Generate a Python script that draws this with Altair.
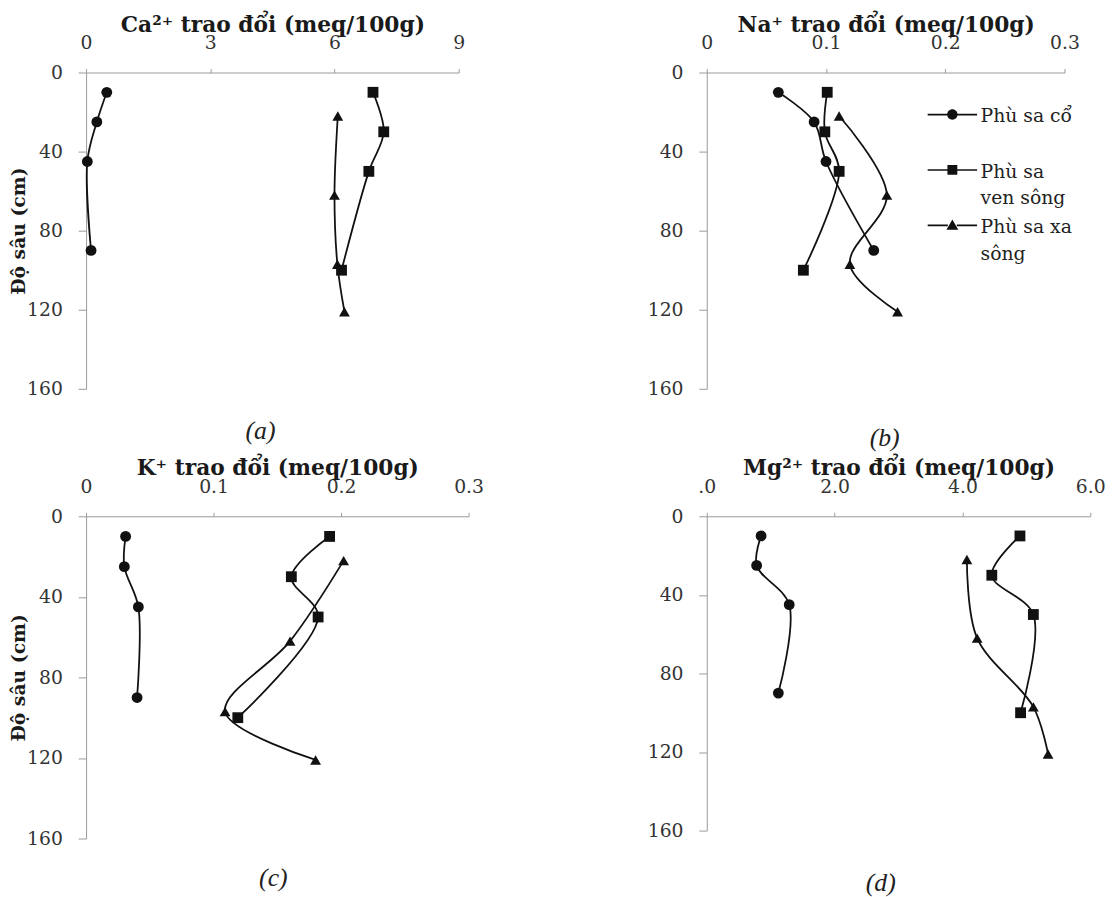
import altair as alt
import pandas as pd

# ---------------- data ----------------
series = ["Phù sa cổ", "Phù sa ven sông", "Phù sa xa sông"]
depth_co = [10, 25, 45, 90]
depth_ven = [10, 30, 50, 100]
depth_xa = [22, 62, 97, 121]

ca_co = [0.50, 0.26, 0.03, 0.12]
ca_ven = [6.93, 7.19, 6.83, 6.17]
ca_xa = [6.08, 6.00, 6.07, 6.24]

na_co = [0.060, 0.090, 0.100, 0.140]
na_ven = [0.101, 0.099, 0.111, 0.081]
na_xa = [0.111, 0.151, 0.120, 0.160]

k_co = [0.031, 0.030, 0.041, 0.040]
k_ven = [0.191, 0.161, 0.182, 0.119]
k_xa = [0.202, 0.160, 0.109, 0.180]

mg_co = [0.85, 0.78, 1.29, 1.12]
mg_ven = [4.90, 4.46, 5.11, 4.91]
mg_xa = [4.07, 4.23, 5.11, 5.34]

depth_ticks = [0, 40, 80, 120, 160]
ca_ticks = [0, 3, 6, 9]
na_ticks = [0, 0.1, 0.2, 0.3]
k_ticks = [0, 0.1, 0.2, 0.3]
mg_ticks = [0, 2, 4, 6]

FONT = "DejaVu Serif"
CAP_FONT = "Liberation Serif"

shape_range = ["circle", "square", "triangle-up"]
# legend symbols: a short line with the marker in the middle (fill-only paths)
_bar = "M-5,1.25H-0.9V1.6H-5ZM0.9,1.25H5V1.6H0.9Z"
legend_paths = [
    _bar + "M-1.05,1.4A1.05,1.05,0,1,1,1.05,1.4A1.05,1.05,0,1,1,-1.05,1.4Z",
    _bar + "M-1,0.4H1V2.4H-1Z",
    _bar + "M0,0.25L1.2,2.3H-1.2Z",
]


def frame(v_co, v_ven, v_xa):
    rows = []
    for s, dep, vals in zip(series, [depth_co, depth_ven, depth_xa], [v_co, v_ven, v_xa]):
        for d, v in zip(dep, vals):
            rows.append({"series": s, "depth": d, "value": v})
    return pd.DataFrame(rows)


def panel(df, xmax, xticks, xtitle, label_expr, ytitle, caption, cap_dx, cap_off, w, h, legend=False):
    xaxis = dict(orient="top", values=xticks, title=xtitle, tickSize=4, titleFontSize=22,
                 labelPadding=16, titlePadding=-2, labelFlush=False)
    if label_expr:
        xaxis["labelExpr"] = label_expr
    yaxis = dict(values=depth_ticks, tickSize=8, labelPadding=16, titlePadding=-2, titleFontSize=19)
    yaxis["title"] = ytitle if ytitle else ""
    x = alt.X("value:Q", scale=alt.Scale(domain=[0, xmax], nice=False, zero=True),
              axis=alt.Axis(**xaxis))
    y = alt.Y("depth:Q", scale=alt.Scale(domain=[0, 160], reverse=True, nice=False),
              axis=alt.Axis(**yaxis))
    base = alt.Chart(df)
    lines = base.mark_line(interpolate="catmull-rom", color="#111", strokeWidth=1.8).encode(
        x=x, y=y, detail="series:N", order="depth:Q")
    pts = base.mark_point(filled=True, size=120, color="#111", opacity=1).encode(
        x=x, y=y,
        shape=alt.Shape("series:N", scale=alt.Scale(domain=series, range=shape_range), legend=None))
    layers = [lines, pts]
    if legend:
        leg = base.mark_point(filled=True, size=100, color="#111", opacity=1).encode(
            x=x, y=y,
            shape=alt.Shape("series:N",
                            scale=alt.Scale(domain=series, range=legend_paths),
                            legend=alt.Legend(
                                orient="none", legendX=239, legendY=26, title=None,
                                labelFont=FONT, labelFontSize=19, labelColor="#222",
                                labelBaseline="top", labelOffset=19, rowPadding=-8,
                                symbolSize=100, symbolOpacity=1, labelLimit=300,
                                labelExpr="datum.label == 'Phù sa ven sông' ? ['Phù sa', 'ven sông'] : datum.label == 'Phù sa xa sông' ? ['Phù sa xa', 'sông'] : [datum.label, '']",
                            ))).transform_filter("false")
        layers.append(leg)
    ch = alt.layer(*layers).properties(
        width=w, height=h,
        title=alt.TitleParams(text=caption, orient="bottom", font=CAP_FONT, fontStyle="italic",
                              fontWeight="normal", fontSize=26, color="#222", offset=cap_off, dx=cap_dx),
    )
    if legend:
        ch = ch.resolve_scale(shape="independent")
    return ch


num1 = "datum.value == 0 ? '0' : format(datum.value, '.1f')"
mgfmt = "datum.value == 0 ? '.0' : format(datum.value, '.1f')"

pa = panel(frame(ca_co, ca_ven, ca_xa), 9, ca_ticks, "Ca²⁺ trao đổi (meq/100g)", None,
           "Độ sâu (cm)", "(a)", -12, 20, 377, 320)
pb = panel(frame(na_co, na_ven, na_xa), 0.3, na_ticks, "Na⁺ trao đổi (meq/100g)", num1,
           None, "(b)", -1, 27, 362, 320, legend=True)
pc = panel(frame(k_co, k_ven, k_xa), 0.3, k_ticks, "K⁺ trao đổi (meq/100g)", num1,
           "Độ sâu (cm)", "(c)", -4, 17, 387, 326)
pd_ = panel(frame(mg_co, mg_ven, mg_xa), 6, mg_ticks, "Mg²⁺ trao đổi (meq/100g)", mgfmt,
            None, "(d)", -18, 30, 388, 318)

chart = alt.concat(pa, pb, pc, pd_, columns=2, spacing={"row": 129, "column": 241},
                   bounds="flush", align="each").properties(
    padding={"left": 1, "top": 0, "right": 5, "bottom": 5}
).configure(
    background="white", style={"guide-label": {"lineHeight": 27}}
).configure_view(strokeOpacity=0).configure_axis(
    grid=False, domainColor="#9a9a9a", tickColor="#9a9a9a", domainWidth=1, tickWidth=1,
    labelFont=FONT, labelFontSize=19, labelColor="#333",
    titleFont=FONT, titleFontWeight="bold", titleColor="#1a1a1a",
)

chart.save("out.html", embed_options={"renderer": "svg", "actions": False})
